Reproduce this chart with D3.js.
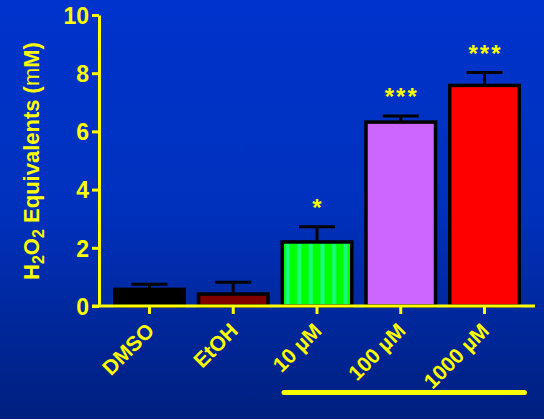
<!DOCTYPE html>
<html>
<head>
<meta charset="utf-8">
<script src="https://cdn.jsdelivr.net/npm/d3@7"></script>
<style>
  html, body { margin: 0; padding: 0; background: #0030c0; }
  svg { display: block; }
  text { font-family: "Liberation Sans", Arial, sans-serif; font-weight: bold; }
</style>
</head>
<body>
<svg id="chart" width="544" height="419"></svg>
<script>
// Treatment groups and their measured H2O2 equivalents (mean, SEM)
const categories = ["DMSO", "EtOH", "10 µM", "100 µM", "1000 µM"];
const means = [0.57, 0.41, 2.20, 6.32, 7.58];
const sems = [0.18, 0.41, 0.52, 0.21, 0.44];
const significance = ["", "", "*", "***", "***"];
const yTicks = [0, 2, 4, 6, 8, 10];
const barFills = ["#000000", "#800000", "url(#greenStripes)", "#cc66ff", "#ff0000"];

const W = 544, H = 419;
const svg = d3.select("#chart");
const defs = svg.append("defs");

// page background: blue, darkening towards the bottom
const grad = defs.append("linearGradient")
  .attr("id", "bg").attr("x1", 0).attr("y1", 0).attr("x2", 0).attr("y2", 1);
grad.append("stop").attr("offset", "0%").attr("stop-color", "#0033cc");
grad.append("stop").attr("offset", "50%").attr("stop-color", "#0031bd");
grad.append("stop").attr("offset", "100%").attr("stop-color", "#001f7e");
svg.append("rect").attr("width", W).attr("height", H).attr("fill", "url(#bg)");

// vertical green stripes for the 10 µM bar
const pat = defs.append("pattern")
  .attr("id", "greenStripes").attr("patternUnits", "userSpaceOnUse")
  .attr("width", 11.6).attr("height", 40);
pat.append("rect").attr("width", 11.6).attr("height", 40).attr("fill", "#00ff00");
pat.append("rect").attr("x", 7.2).attr("width", 4).attr("height", 40).attr("fill", "#1aff80");

const yellow = "#ffff00";

const x = d3.scaleBand().domain(categories).range([99, 535])
  .paddingInner(0.17).paddingOuter(0.188);
const y = d3.scaleLinear().domain([0, 10]).range([306, 15]);

const data = categories.map((c, i) => ({ c, m: means[i], s: sems[i], sig: significance[i], fill: barFills[i] }));

// bars
svg.append("g").selectAll("rect").data(data).join("rect")
  .attr("x", d => x(d.c))
  .attr("y", d => y(d.m))
  .attr("width", x.bandwidth())
  .attr("height", d => y(0) - y(d.m))
  .attr("fill", d => d.fill)
  .attr("stroke", "#000")
  .attr("stroke-width", 3.5);

// upper error bars
const eb = svg.append("g").attr("stroke", "#000").attr("stroke-width", 3);
eb.selectAll("line.v").data(data).join("line").attr("class", "v")
  .attr("x1", d => x(d.c) + x.bandwidth() / 2).attr("x2", d => x(d.c) + x.bandwidth() / 2)
  .attr("y1", d => y(d.m)).attr("y2", d => y(d.m + d.s));
eb.selectAll("line.cap").data(data).join("line").attr("class", "cap")
  .attr("x1", d => x(d.c) + x.bandwidth() / 2 - 18).attr("x2", d => x(d.c) + x.bandwidth() / 2 + 18)
  .attr("y1", d => y(d.m + d.s)).attr("y2", d => y(d.m + d.s));

// significance stars
svg.append("g").selectAll("text").data(data.filter(d => d.sig)).join("text")
  .attr("x", d => x(d.c) + x.bandwidth() / 2 + 1)
  .attr("y", d => y(d.m + d.s) - 11)
  .attr("text-anchor", "middle")
  .attr("fill", yellow)
  .attr("font-size", 24)
  .attr("letter-spacing", 2)
  .text(d => d.sig);

// y axis
const yAxis = svg.append("g").attr("transform", "translate(99,0)")
  .call(d3.axisLeft(y).tickValues(yTicks).tickSize(7).tickSizeOuter(0).tickPadding(3));
yAxis.selectAll("path, line").attr("stroke", yellow).attr("stroke-width", 3);
yAxis.selectAll("text").attr("fill", yellow).attr("font-size", 23)
  .attr("font-family", "Liberation Sans, Arial, sans-serif").attr("font-weight", "bold")
  .attr("dy", "0.36em");

// x axis
const xAxis = svg.append("g").attr("transform", "translate(0,306)")
  .call(d3.axisBottom(x).tickSize(8).tickSizeOuter(0));
xAxis.select(".domain").attr("d", "M92,0H535");
xAxis.selectAll("path, line").attr("stroke", yellow).attr("stroke-width", 3);
xAxis.selectAll("text")
  .attr("fill", yellow).attr("font-size", 21)
  .attr("font-family", "Liberation Sans, Arial, sans-serif").attr("font-weight", "bold")
  .attr("x", 0).attr("y", 0).attr("dy", 0)
  .attr("text-anchor", "end")
  .attr("transform", "translate(6,26) rotate(-45)");

// bracket under the concentration groups
svg.append("line")
  .attr("x1", x("10 µM") + x.bandwidth() / 2 - 33)
  .attr("x2", x("1000 µM") + x.bandwidth() / 2 + 40)
  .attr("y1", 392.5).attr("y2", 392.5)
  .attr("stroke", yellow).attr("stroke-width", 5).attr("stroke-linecap", "round");

// y axis title
const title = svg.append("text")
  .attr("transform", "translate(38.5,161) rotate(-90)")
  .attr("text-anchor", "middle")
  .attr("fill", yellow)
  .attr("font-size", 22);
title.append("tspan").text("H");
title.append("tspan").attr("font-size", 16).attr("dy", 5).text("2");
title.append("tspan").attr("dy", -5).text("O");
title.append("tspan").attr("font-size", 16).attr("dy", 5).text("2");
title.append("tspan").attr("dy", -5).text(" Equivalents (");
title.append("tspan").attr("font-weight", "normal").text("m");
title.append("tspan").text("M)");
</script>
</body>
</html>
